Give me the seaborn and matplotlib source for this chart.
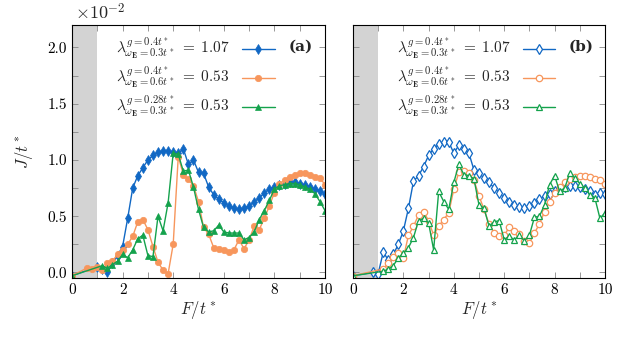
import numpy as np
import pandas as pd
import matplotlib
matplotlib.use("Agg")
from matplotlib import pyplot as plt
import seaborn as sns

# common F grid (F/t*) from 1.0 to 10.0 in steps of 0.2
grid = [round(1.0 + 0.2 * i, 1) for i in range(46)]

# ---- panel (a) ----
blue_a_F = [0.0] + grid
blue_a = [-0.03,
          0.05, 0.03, 0.00, 0.08, 0.15, 0.23, 0.48, 0.75, 0.86, 0.93,
          1.00, 1.04, 1.07, 1.08, 1.08, 1.07, 1.06, 1.10, 0.96, 1.00,
          0.89, 0.88, 0.76, 0.69, 0.65, 0.62, 0.59, 0.57, 0.56, 0.57,
          0.59, 0.63, 0.66, 0.71, 0.74, 0.76, 0.78, 0.79, 0.80, 0.80,
          0.79, 0.775, 0.76, 0.74, 0.72, 0.70]

orange_a_F = [0.0, 0.6, 0.8] + grid
orange_a = [-0.03, 0.04, 0.03,
            0.05, 0.02, 0.08, 0.10, 0.16, 0.20, 0.25, 0.32, 0.45, 0.47,
            0.38, 0.23, 0.09, 0.02, -0.01, 0.25, 1.03, 0.87, 0.83, 0.77,
            0.63, 0.40, 0.34, 0.22, 0.21, 0.20, 0.18, 0.20, 0.29, 0.21,
            0.29, 0.41, 0.38, 0.48, 0.59, 0.71, 0.79, 0.82, 0.85, 0.87,
            0.88, 0.885, 0.87, 0.85, 0.84, 0.78]

green_a_F = [0.0] + grid[1:]
green_a = [-0.03,
           0.06, 0.035, 0.07, 0.10, 0.16, 0.13, 0.20, 0.30, 0.33,
           0.15, 0.14, 0.50, 0.37, 0.62, 1.06, 1.05, 0.90, 0.91, 0.76,
           0.56, 0.40, 0.36, 0.37, 0.42, 0.36, 0.35, 0.35, 0.35, 0.29,
           0.31, 0.36, 0.47, 0.55, 0.64, 0.74, 0.77, 0.78, 0.79, 0.79,
           0.78, 0.76, 0.74, 0.70, 0.63, 0.55]

# ---- panel (b) ----
blue_b_F = [0.0, 0.8] + grid
blue_b = [-0.03, 0.00,
          -0.01, 0.18, 0.11, 0.16, 0.25, 0.37, 0.57, 0.81, 0.86, 0.94,
          1.04, 1.10, 1.14, 1.16, 1.16, 1.06, 1.13, 1.10, 1.06, 0.91,
          0.88, 0.84, 0.80, 0.75, 0.71, 0.66, 0.63, 0.60, 0.58, 0.57,
          0.59, 0.62, 0.65, 0.68, 0.70, 0.72, 0.74, 0.76, 0.765, 0.765,
          0.76, 0.74, 0.72, 0.69, 0.71, 0.70]

orange_b_F = [0.0] + grid[1:]
orange_b = [-0.03,
            0.03, 0.08, 0.14, 0.17, 0.13, 0.33, 0.41, 0.51, 0.54,
            0.46, 0.33, 0.41, 0.47, 0.53, 0.74, 0.89, 0.90, 0.88, 0.82,
            0.68, 0.56, 0.43, 0.35, 0.32, 0.33, 0.40, 0.37, 0.34, 0.28,
            0.26, 0.35, 0.43, 0.54, 0.63, 0.71, 0.76, 0.80, 0.83, 0.85,
            0.86, 0.86, 0.85, 0.83, 0.82, 0.79]

green_b_F = [0.0] + grid[1:]
green_b = [-0.03,
           0.01, 0.03, 0.06, 0.13, 0.17, 0.22, 0.31, 0.46, 0.48,
           0.44, 0.20, 0.72, 0.63, 0.56, 0.80, 0.96, 0.87, 0.86, 0.83,
           0.60, 0.57, 0.41, 0.45, 0.46, 0.29, 0.32, 0.29, 0.33, 0.28,
           0.33, 0.49, 0.50, 0.60, 0.78, 0.86, 0.72, 0.75, 0.88, 0.84,
           0.79, 0.75, 0.69, 0.66, 0.48, 0.53]

labels = [r"$\lambda^{g=0.4t^*}_{\omega_{\mathbf{E}}=0.3t^*}\;=\;1.07$",
          r"$\lambda^{g=0.4t^*}_{\omega_{\mathbf{E}}=0.6t^*}\;=\;0.53$",
          r"$\lambda^{g=0.28t^*}_{\omega_{\mathbf{E}}=0.3t^*}\;=\;0.53$"]
colors = ["#1168c4", "#f7965c", "#14a24c"]
markers = ["d", "o", "^"]
msizes = [5, 4.6, 5]

sns.set_style("ticks")
plt.rcParams["font.family"] = "serif"
plt.rcParams["font.serif"] = ["cmr10", "DejaVu Serif"]
plt.rcParams["mathtext.fontset"] = "cm"
plt.rcParams["axes.unicode_minus"] = False
plt.rcParams["axes.formatter.use_mathtext"] = True

fig = plt.figure(figsize=(6.22, 3.37), dpi=100)
ax_a = fig.add_axes([72 / 622, 1 - 278 / 337, 253 / 622, 253 / 337])
ax_b = fig.add_axes([353 / 622, 1 - 278 / 337, 252 / 622, 253 / 337])

panels = [
    (ax_a, [(blue_a_F, blue_a), (orange_a_F, orange_a), (green_a_F, green_a)], True, "(a)"),
    (ax_b, [(blue_b_F, blue_b), (orange_b_F, orange_b), (green_b_F, green_b)], False, "(b)"),
]

for ax, series, filled, tag in panels:
    ax.axvspan(0, 1, color="#d3d3d3", lw=0, zorder=0)
    for (F, J), lab, c, m, ms in zip(series, labels, colors, markers, msizes):
        df = pd.DataFrame({"F": F, "J": J})
        sns.lineplot(data=df, x="F", y="J", ax=ax, color=c, marker=m,
                     markersize=ms, lw=1.0, label=lab,
                     markerfacecolor=c if filled else "white",
                     markeredgecolor=c, markeredgewidth=0.9 if not filled else 0.5)
    ax.set_xlim(0, 10)
    ax.set_ylim(-0.05, 2.2)
    ax.set_xticks(range(11))
    ax.set_xticklabels([str(i) if i % 2 == 0 else "" for i in range(11)], fontsize=11)
    yt = [0.25 * i for i in range(9)]
    ax.set_yticks(yt)
    ax.tick_params(direction="in", top=True, right=True, length=4, width=0.6, colors="#888888",
                   labelcolor="black")
    for s in ax.spines.values():
        s.set_linewidth(0.8)
        s.set_color("black")
    ax.set_xlabel(r"$F/t^*$", fontsize=12, labelpad=2)
    leg = ax.legend(loc="upper left", bbox_to_anchor=(0.15, 0.98), frameon=False,
                    markerfirst=False, handlelength=2.15, fontsize=11,
                    labelspacing=0.2, handletextpad=0.8, borderaxespad=0)
    ax.text(0.855, 0.913, tag, transform=ax.transAxes, fontsize=11,
            fontweight="bold", family="DejaVu Serif", va="center")

ax_a.set_yticklabels([f"{v:.1f}" if i % 2 == 0 else "" for i, v in enumerate(yt)], fontsize=11)
ax_b.set_yticklabels([])
ax_a.set_ylabel(r"$J/t^*$", fontsize=12, labelpad=9)
ax_b.set_ylabel("")
fig.text(75 / 622, 1 - 12 / 337, r"$\times10^{-2}$", fontsize=13, va="center")

plt.savefig("out.png", dpi=100)
